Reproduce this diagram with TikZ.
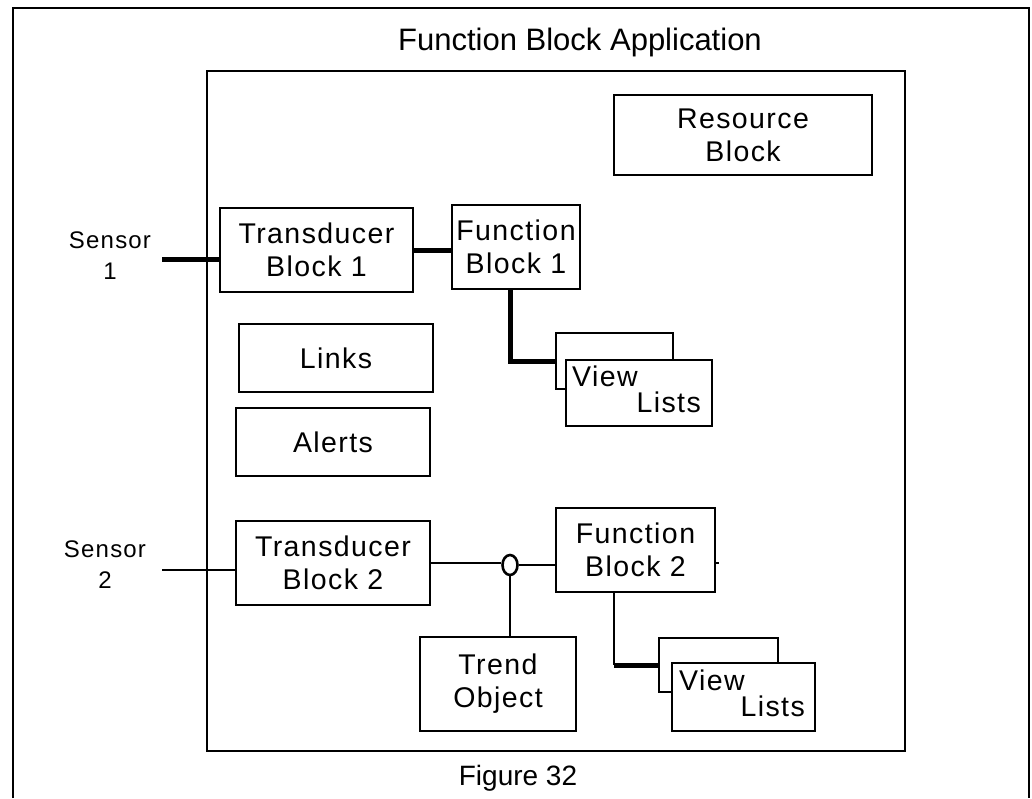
\documentclass[tikz,border=0pt]{standalone}
\usepackage{fontspec}
\setmainfont{Liberation Sans}
\newfontfamily\boxfont[LetterSpace=5]{Liberation Sans}
\usetikzlibrary{calc,shapes.geometric}

\tikzset{
  frame/.style={draw, line width=2.8pt},
  box/.style={draw, line width=2.8pt, fill=white, inner sep=0pt, align=center,
    font=\boxfont\fontsize{28.5}{33}\selectfont, text=black},
  lbl/.style={inner sep=0pt, align=center, font=\boxfont\fontsize{24}{31}\selectfont},
  heading/.style={inner sep=0pt, font=\fontsize{31}{36}\selectfont},
  thinwire/.style={draw, line width=2.6pt},
  thickwire/.style={draw, line width=5pt},
  vtext/.style={inner sep=0pt, font=\boxfont\fontsize{28.5}{33}\selectfont},
}

\begin{document}
\begin{tikzpicture}[x=1pt, y=-1pt]
\useasboundingbox (0,0) rectangle (1032,798);
\fill[white] (0,0) rectangle (1032,798);

% outer border (open at the bottom)
\draw[frame] (13,798) -- (13,8) -- (1029,8) -- (1029,798);
\node[heading] (title) at (580,42) {Function Block Application};

% application frame
\draw[frame] (207,71) rectangle (905,751);
\node[heading, font=\fontsize{28}{34}\selectfont] (caption) at (518,778) {Figure 32};

% blocks
\node[box, minimum width=258, minimum height=80] (rb) at (743,135) {Resource\\Block};
\node[box, minimum width=193, minimum height=84] (tb1) at (316.5,250) {Transducer\\Block 1};
\node[box, minimum width=128, minimum height=84] (fb1) at (516,247) {Function\\Block 1};
\node[box, minimum width=194, minimum height=68] (links) at (336,358) {Links};
\node[box, minimum width=194, minimum height=68] (alerts) at (333,442) {Alerts};
\node[box, minimum width=194, minimum height=84] (tb2) at (333,563) {Transducer\\Block 2};
\node[box, minimum width=159, minimum height=84] (fb2) at (635.5,550) {Function\\Block 2};
\node[box, minimum width=156, minimum height=94] (trend) at (498,684) {Trend\\Object};

% view lists under Function Block 1
\node[box, minimum width=117, minimum height=56] (vl1b) at (614.5,361) {};
\node[box, minimum width=146, minimum height=66] (vl1) at (639,393) {};
\node[vtext, anchor=base west] (vl1v) at (572,386) {View};
\node[vtext, anchor=base east] (vl1l) at (701,412) {Lists};

% view lists under Function Block 2
\node[box, minimum width=119, minimum height=54] (vl2b) at (718.5,665) {};
\node[box, minimum width=143, minimum height=68] (vl2) at (743.5,697) {};
\node[vtext, anchor=base west] (vl2v) at (679,690) {View};
\node[vtext, anchor=base east] (vl2l) at (805,716) {Lists};

% sensors
\node[lbl] (sen1) at (110,256) {Sensor\\1};
\node[lbl] (sen2) at (105,565) {Sensor\\2};
\coordinate (s1) at (162,259);
\coordinate (s2) at (162,570);

% trend tap
\node[draw, line width=2.6pt, ellipse, fill=white, minimum width=15, minimum height=20, inner sep=0pt] (tap) at (510,565) {};

% connections
\draw[thickwire] (s1) -- (s1 -| tb1.west);
\draw[thickwire] (tb1.east) -- (tb1.east -| fb1.west);
\coordinate (k1) at (510,361);
\draw[thickwire] (fb1.south -| k1) -- (k1) -- (vl1b.west);

\draw[thinwire] (s2) -- (s2 -| tb2.west);
\draw[thinwire] (tb2.east) -- (tb2.east -| tap.west);
\draw[thinwire] (tap.east) -- (tap.east -| fb2.west);
\draw[thinwire] (tap.south) -- (tap.south |- trend.north);
\coordinate (stub) at (719,563);
\draw[thinwire] (stub -| fb2.east) -- (stub);

\coordinate (k2) at (614,665);
\draw[thinwire] (fb2.south -| k2) -- (k2);
\draw[thickwire] (k2) -- (vl2b.west);
\end{tikzpicture}
\end{document}
